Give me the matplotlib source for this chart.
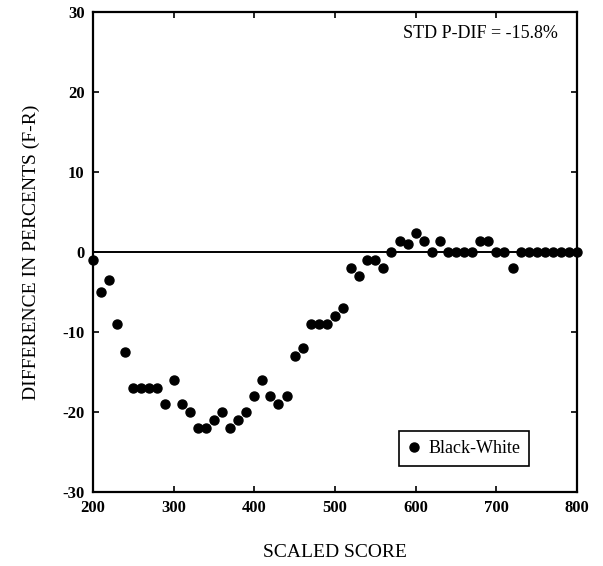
import matplotlib.pyplot as plt

# scaled score grid and F-R differences (percent)
scores = list(range(200, 810, 10))
diffs = [-1, -5, -3.5, -9, -12.5, -17, -17, -17, -17, -19,
         -16, -19, -20, -22, -22, -21, -20, -22, -21, -20,
         -18, -16, -18, -19, -18, -13, -12, -9, -9, -9,
         -8, -7, -2, -3, -1, -1, -2, 0, 1.3, 1,
         2.3, 1.3, 0, 1.3, 0, 0, 0, 0, 1.3, 1.3,
         0, 0, -2, 0, 0, 0, 0, 0, 0, 0, 0]
x_ticks = [200, 300, 400, 500, 600, 700, 800]
y_ticks = [-30, -20, -10, 0, 10, 20, 30]

plt.rcParams['font.family'] = ['Liberation Serif', 'DejaVu Serif']
plt.rcParams['axes.unicode_minus'] = False

fig = plt.figure(figsize=(6.03, 5.66), dpi=100)
ax = fig.add_axes([0.154, 0.131, 0.803, 0.848])

ax.axhline(0, color='black', lw=1.4, zorder=1)
ax.plot(scores, diffs, 'o', color='black', ms=6.5, label='Black-White',
        clip_on=False, zorder=3)

ax.set_xlim(200, 800)
ax.set_ylim(-30, 30)
ax.set_xticks(x_ticks)
ax.set_yticks(y_ticks)
ax.tick_params(direction='in', top=True, right=True, length=4, width=1.2,
               labelsize=12, pad=6)
for lab in ax.get_xticklabels() + ax.get_yticklabels():
    lab.set_fontweight('bold')
for sp in ax.spines.values():
    sp.set_linewidth(1.6)

ax.set_xlabel('SCALED SCORE', fontsize=14, labelpad=20)
ax.set_ylabel('DIFFERENCE IN PERCENTS (F-R)', fontsize=14, labelpad=16)

ax.text(0.96, 0.955, 'STD P-DIF = -15.8%', transform=ax.transAxes,
        ha='right', va='center', fontsize=13)

leg = ax.legend(loc='lower right', bbox_to_anchor=(0.92, 0.035),
                fontsize=13, handlelength=0.6, handletextpad=0.5,
                borderpad=0.5, fancybox=False, framealpha=1,
                edgecolor='black')
leg.get_frame().set_linewidth(1.2)

fig.savefig('out.png', dpi=100)
